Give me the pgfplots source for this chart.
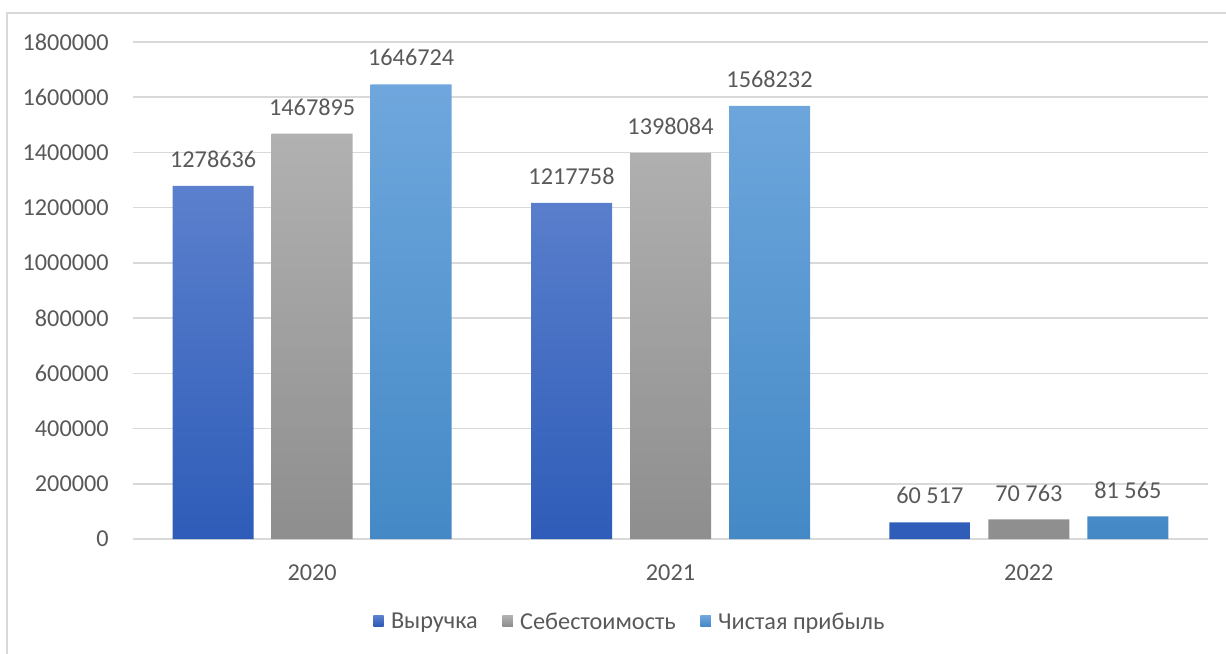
\documentclass[border=0pt]{standalone}
\usepackage{fontspec}
\setmainfont{Carlito}
\usepackage{pgfplots}
\pgfplotsset{compat=1.18}
\definecolor{tx}{HTML}{595959}
\definecolor{gridc}{HTML}{D9D9D9}
\definecolor{bAt}{HTML}{5B80CD}
\definecolor{bAb}{HTML}{2E5CB8}
\definecolor{bBt}{HTML}{B1B1B1}
\definecolor{bBb}{HTML}{8E8E8E}
\definecolor{bCt}{HTML}{6FA7DD}
\definecolor{bCb}{HTML}{4489C6}
\begin{document}
\begin{tikzpicture}
\useasboundingbox (-99.75pt,-85.5pt) rectangle (819.75pt,404.25pt);
\draw[gridc, line width=1.2pt] (-94.5pt,-90pt) -- (-94.5pt,394.5pt) -- (830pt,394.5pt);
\begin{axis}[
  at={(0pt,0pt)}, anchor=south west,
  scale only axis, width=806.25pt, height=372.75pt,
  xmin=-0.5, xmax=2.5, ymin=0, ymax=1800000,
  ybar=13.5pt, bar width=60.75pt,
  xtick={0,1,2}, xticklabels={2020,2021,2022},
  ytick={0,200000,400000,600000,800000,1000000,1200000,1400000,1600000,1800000},
  scaled y ticks=false,
  yticklabel={\pgfmathprintnumber[fixed,precision=0,1000 sep={},assume math mode=true]{\tick}},
  axis line style={draw=none}, major tick length=0pt,
  ymajorgrids, grid style={gridc, line width=1.1pt},
  tick label style={font=\fontsize{18.2pt}{21pt}\selectfont, text=tx, inner sep=0pt},
  yticklabel style={anchor=east, xshift=-18pt},
  xticklabel style={anchor=north, yshift=-19pt},
  nodes near coords={\pgfplotspointmeta},
  point meta=explicit symbolic,
  every node near coord/.append style={font=\fontsize{18.2pt}{21pt}\selectfont, text=tx, anchor=south, inner sep=0pt, yshift=13.5pt},
  legend columns=3,
  legend style={at={(0.4625,-0.167)}, anchor=center, draw=none, fill=none,
    font=\fontsize{18.2pt}{21pt}\selectfont, text=tx,
    /tikz/every odd column/.append style={column sep=3.5pt},
    /tikz/every even column/.append style={column sep=16.5pt},
    inner sep=0pt},
  legend image code/.code={\path[#1, draw=none] (0pt,-3pt) rectangle (7.8pt,4.8pt);},
]
\addplot[draw=none, top color=bAt, bottom color=bAb] coordinates {(0,1278636) [1278636] (1,1217758) [1217758] (2,60517) [60 517]};
\addplot[draw=none, top color=bBt, bottom color=bBb] coordinates {(0,1467895) [1467895] (1,1398084) [1398084] (2,70763) [70 763]};
\addplot[draw=none, top color=bCt, bottom color=bCb] coordinates {(0,1646724) [1646724] (1,1568232) [1568232] (2,81565) [81 565]};
\legend{Выручка, Себестоимость, Чистая прибыль}
\end{axis}
\end{tikzpicture}
\end{document}
